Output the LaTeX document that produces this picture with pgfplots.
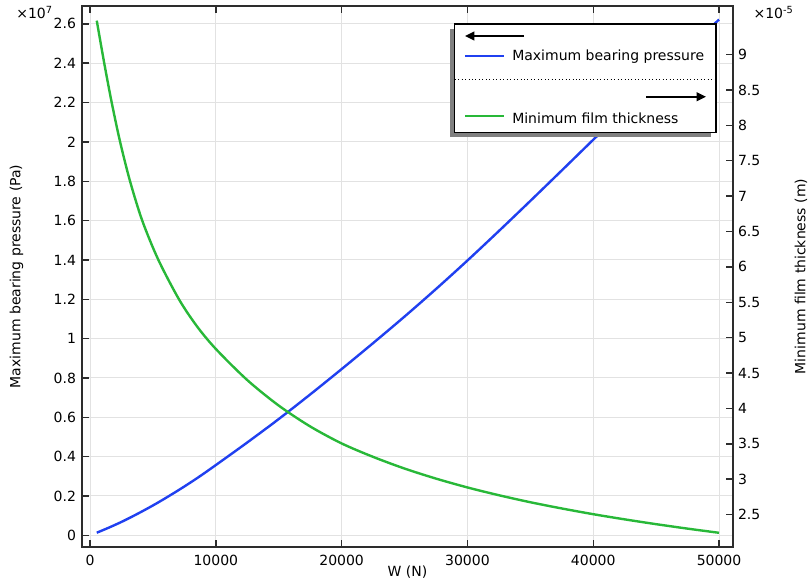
\documentclass[border=0pt]{standalone}
\usepackage{pgfplots}
\pgfplotsset{compat=1.18}
\usepackage{pgfplotstable}
\usepackage{fontspec}
\setmainfont{DejaVu Sans}
\usetikzlibrary{arrows.meta}
\definecolor{cblue}{RGB}{32,64,240}
\definecolor{cgreen}{RGB}{40,184,56}
\definecolor{axgray}{RGB}{45,45,45}
\definecolor{gridgray}{RGB}{226,226,226}
\definecolor{shadowgray}{RGB}{128,128,128}

\pgfplotstableread{
W p
533 0.013
1500 0.039
2500 0.068
3500 0.100
4500 0.134
5500 0.170
7000 0.228
8500 0.290
10000 0.357
12500 0.472
15000 0.591
17500 0.716
20000 0.845
22500 0.977
25000 1.112
27500 1.252
30000 1.397
32500 1.547
35000 1.700
37500 1.855
40000 2.011
42500 2.166
45000 2.320
47500 2.472
50000 2.622
}\pressure

\pgfplotstableread{
W h
533 9.48
1137 8.87
1725 8.32
2385 7.77
3180 7.21
4157 6.65
5429 6.10
7075 5.54
8500 5.16
10000 4.84
12500 4.40
15000 4.04
17500 3.745
20000 3.505
22500 3.315
25000 3.150
27500 3.008
30000 2.883
32500 2.773
35000 2.674
37500 2.586
40000 2.505
42500 2.432
45000 2.364
47500 2.301
50000 2.242
}\film

\begin{document}
\begin{tikzpicture}[font=\fontsize{10.5}{12.6}\selectfont]
\useasboundingbox (-61.5pt,-27.75pt) rectangle (546pt,410.25pt);
\pgfplotsset{
  common/.style={
    scale only axis, width=488.25pt, height=405.75pt,
    at={(0pt,0pt)}, anchor=south west,
    xmin=-640, xmax=51110,
    tick align=inside,
    major tick length=5.25pt,
    tick style={axgray, line width=1.1pt},
    axis line style={axgray, line width=1.1pt},
    tick label style={font=\fontsize{10.5}{12.6}\selectfont, text=black},
    /pgf/number format/assume math mode=true,
    scaled ticks=false,
  }
}
\begin{axis}[common,
  ymin=-0.0596, ymax=2.691,
  xtick={0,10000,20000,30000,40000,50000},
  xticklabels={0,10000,20000,30000,40000,50000},
  ytick={0,0.2,0.4,0.6,0.8,1,1.2,1.4,1.6,1.8,2,2.2,2.4,2.6},
  yticklabels={0,0.2,0.4,0.6,0.8,1,1.2,1.4,1.6,1.8,2,2.2,2.4,2.6},
  xtick pos=both, ytick pos=left,
  grid=major, grid style={gridgray, line width=0.75pt},
  xticklabel style={yshift=-2.5pt},
  yticklabel style={xshift=-1pt},
]
\addplot[cblue, line width=1.8pt, smooth] table[x=W,y=p]{\pressure};
\end{axis}
\begin{axis}[common,
  ymin=2.0415, ymax=9.687,
  hide x axis,
  ytick={2.5,3,3.5,4,4.5,5,5.5,6,6.5,7,7.5,8,8.5,9},
  yticklabels={2.5,3,3.5,4,4.5,5,5.5,6,6.5,7,7.5,8,8.5,9},
  ytick pos=right,
  yticklabel style={xshift=0.25pt},
]
\addplot[cgreen, line width=1.8pt, smooth] table[x=W,y=h]{\film};
\end{axis}

% legend
\fill[shadowgray] (276pt,307.2pt) rectangle (472pt,388.75pt);
\draw[black, line width=1.1pt, fill=white] (279.5pt,310.7pt) rectangle (475.5pt,392.25pt);
\draw[black, line width=1.3pt, -{Triangle[length=7pt,width=6.5pt]}] (331.5pt,383.25pt) -- (287.25pt,383.25pt);
\draw[cblue, line width=1.8pt] (287.25pt,368.25pt) -- (316.5pt,368.25pt);
\node[anchor=base west, inner sep=0pt] at (322.5pt,364.5pt) {Maximum bearing pressure};
\draw[black, line width=0.6pt, dotted] (279.5pt,351pt) -- (475.5pt,351pt);
\draw[black, line width=1.3pt, -{Triangle[length=7pt,width=6.5pt]}] (423pt,337.7pt) -- (468pt,337.7pt);
\draw[cgreen, line width=1.8pt] (287.25pt,323.25pt) -- (316.5pt,323.25pt);
\node[anchor=base west, inner sep=0pt] at (322.5pt,317.8pt) {Minimum film thickness};

% labels
\node[anchor=base east, inner sep=0pt] at (-21.75pt,396.5pt) {×10\textsuperscript{7}};
\node[anchor=base west, inner sep=0pt] at (503.5pt,396.5pt) {×10\textsuperscript{-5}};
\node[anchor=base, inner sep=0pt] at (244.1pt,-22.5pt) {W (N)};
\node[rotate=90, inner sep=0pt] at (-49.1pt,202.9pt) {Maximum bearing pressure (Pa)};
\node[rotate=90, inner sep=0pt] at (539.25pt,202.9pt) {Minimum film thickness (m)};
\end{tikzpicture}
\end{document}
